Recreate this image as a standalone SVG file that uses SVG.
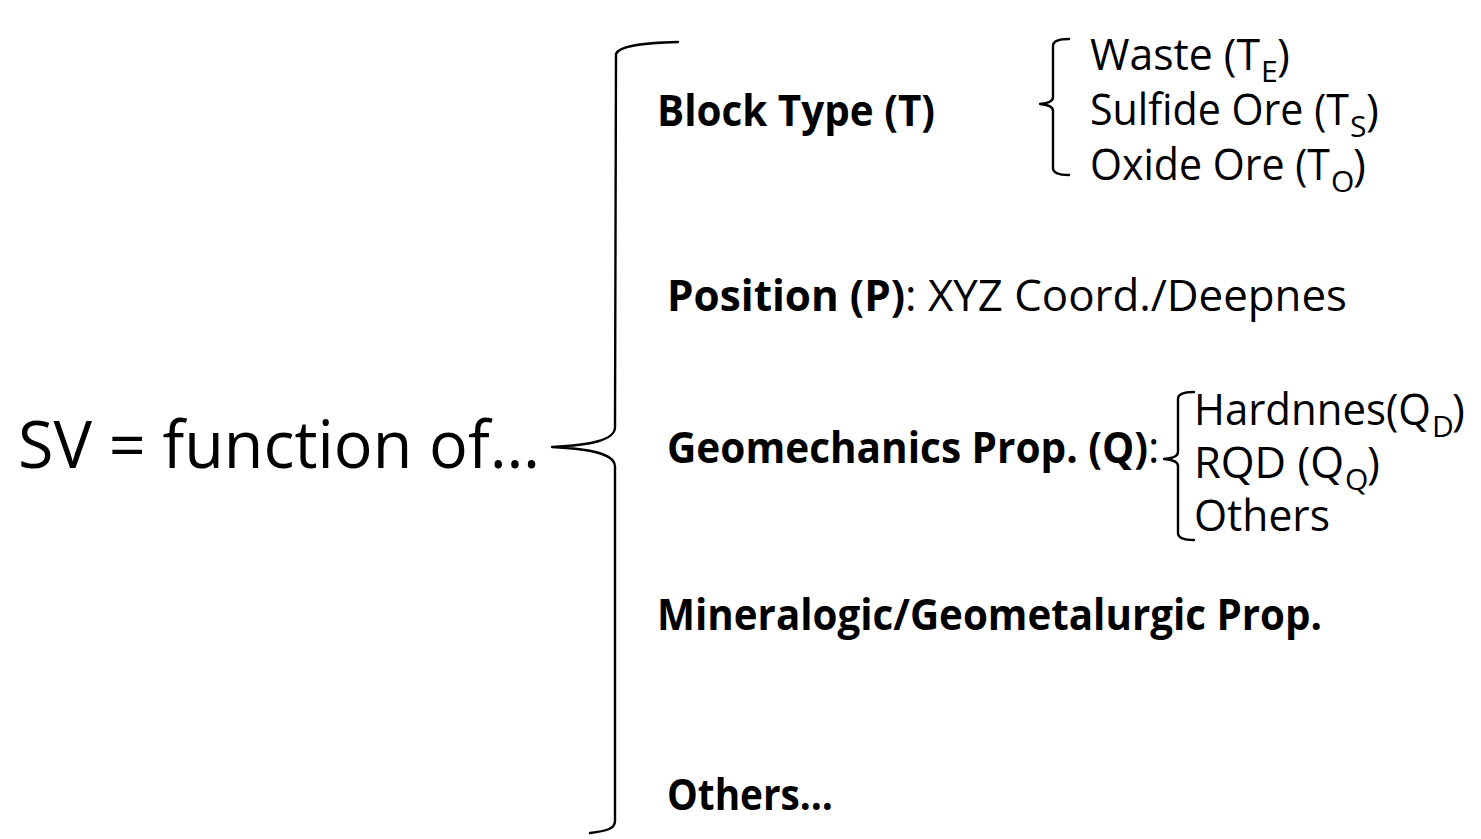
<svg xmlns="http://www.w3.org/2000/svg" width="1481" height="839" viewBox="0 0 1481 839">
  <style>
    .bg { fill: #ffffff; }
    .brace { fill: none; stroke: #000000; stroke-width: 2.4; stroke-linecap: round; stroke-linejoin: round; }
    text { font-family: "Open Sans", "Noto Sans", "Liberation Sans", sans-serif; fill: #000000; }
    .big { font-size: 65px; }
    .b { font-size: 43.5px; font-weight: 700; }
    .r { font-size: 43.5px; font-weight: 400; }
    .sub { font-size: 30px; font-weight: 400; }
  </style>
  <rect class="bg" x="0" y="0" width="1481" height="839"/>

  <!-- root label -->
  <g id="root">
    <text class="big" x="18" y="468" textLength="522" lengthAdjust="spacingAndGlyphs">SV = function of…</text>
  </g>

  <!-- braces joining the levels -->
  <g id="connectors">
    <path class="brace" d="M 678 42 C 640 43, 619 46, 616 54 L 615 428 C 614 440, 592 445, 552 447 C 592 449, 614 454, 615 466 L 615 821 C 615 829, 606 831, 590 833"/>
    <path class="brace" d="M 1069 39 Q 1053 39 1053 46 L 1053 97 Q 1053 103 1040 104 Q 1053 105 1053 111 L 1053 168 Q 1053 175 1069 175"/>
    <path class="brace" d="M 1194 392 Q 1178 392 1178 399 L 1178 452 Q 1178 458 1164 459 Q 1178 460 1178 466 L 1178 533 Q 1178 540 1194 540"/>
  </g>

  <g id="block-type">
    <text class="b" x="657" y="126" textLength="278" lengthAdjust="spacingAndGlyphs">Block Type (T)</text>
  </g>

  <g id="block-types">
    <text class="r" x="1090" y="70" textLength="170" lengthAdjust="spacingAndGlyphs">Waste (T</text>
    <text class="sub" x="1261" y="82">E</text>
    <text class="r" x="1277" y="70">)</text>

    <text class="r" x="1090" y="125" textLength="259" lengthAdjust="spacingAndGlyphs">Sulfide Ore (T</text>
    <text class="sub" x="1350" y="137">S</text>
    <text class="r" x="1366" y="125">)</text>

    <text class="r" x="1090" y="180" textLength="240" lengthAdjust="spacingAndGlyphs">Oxide Ore (T</text>
    <text class="sub" x="1331" y="192">O</text>
    <text class="r" x="1353" y="180">)</text>
  </g>

  <g id="position">
    <text class="b" x="667" y="311" textLength="238" lengthAdjust="spacingAndGlyphs">Position (P)</text>
    <text class="r" x="905" y="311" textLength="442" lengthAdjust="spacingAndGlyphs">: XYZ Coord./Deepnes</text>
  </g>

  <g id="geomechanics">
    <text class="b" x="667" y="463" textLength="481" lengthAdjust="spacingAndGlyphs">Geomechanics Prop. (Q)</text>
    <text class="r" x="1148" y="463">:</text>
  </g>

  <g id="geomechanics-props">
    <text class="r" x="1194" y="425" textLength="237" lengthAdjust="spacingAndGlyphs">Hardnnes(Q</text>
    <text class="sub" x="1432" y="437">D</text>
    <text class="r" x="1452" y="425">)</text>

    <text class="r" x="1194" y="478" textLength="150" lengthAdjust="spacingAndGlyphs">RQD (Q</text>
    <text class="sub" x="1345" y="490">Q</text>
    <text class="r" x="1367" y="478">)</text>

    <text class="r" x="1194" y="531" textLength="136" lengthAdjust="spacingAndGlyphs">Others</text>
  </g>

  <g id="mineralogic">
    <text class="b" x="657" y="630" textLength="665" lengthAdjust="spacingAndGlyphs">Mineralogic/Geometalurgic Prop.</text>
  </g>

  <g id="others">
    <text class="b" x="667" y="810" textLength="166" lengthAdjust="spacingAndGlyphs">Others…</text>
  </g>
</svg>
